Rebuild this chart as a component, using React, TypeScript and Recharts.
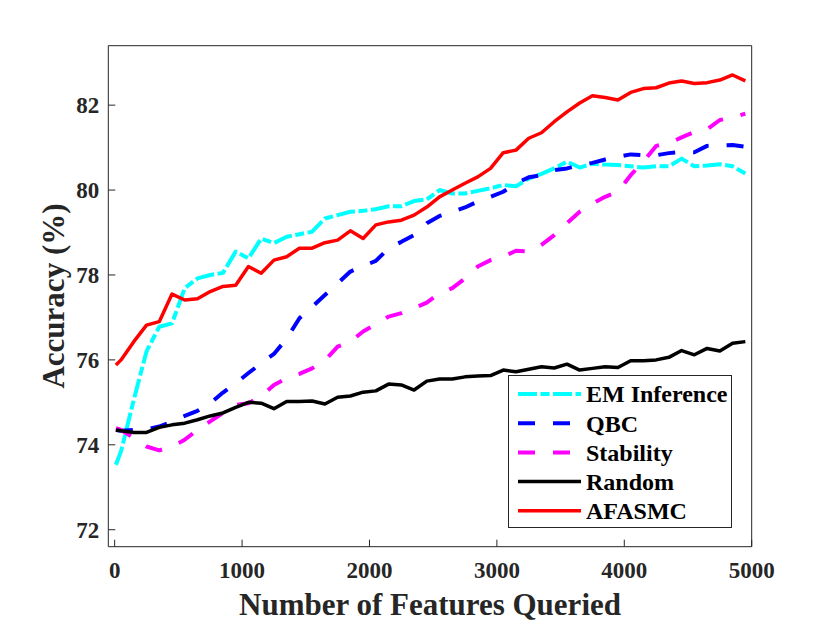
import React from 'react';
import {
  LineChart,
  Line,
  XAxis,
  YAxis,
  Legend,
  Label,
} from 'recharts';

// features queried (x positions of the samples)
const featuresQueried = [
  10, 50, 150, 250, 350, 450, 550, 650, 750, 850, 950,
  1050, 1150, 1250, 1350, 1450, 1550, 1650, 1750, 1850, 1950,
  2050, 2150, 2250, 2350, 2450, 2550, 2650, 2750, 2850, 2950,
  3050, 3150, 3250, 3350, 3450, 3550, 3650, 3750, 3850, 3950,
  4050, 4150, 4250, 4350, 4450, 4550, 4650, 4750, 4850, 4950,
];

const emInference = [
  73.53, 73.85, 75.06, 76.2, 76.78, 76.86, 77.69, 77.92, 78.0, 78.05, 78.55,
  78.39, 78.86, 78.75, 78.9, 78.96, 79.02, 79.33, 79.41, 79.49, 79.51,
  79.55, 79.62, 79.62, 79.74, 79.78, 80.0, 79.92, 79.92, 79.98, 80.04,
  80.12, 80.09, 80.27, 80.38, 80.51, 80.67, 80.53, 80.62, 80.6, 80.59,
  80.56, 80.53, 80.56, 80.56, 80.74, 80.56, 80.58, 80.61, 80.56, 80.39,
];

const qbc = [
  74.35, 74.33, 74.35, 74.36, 74.43, 74.55, 74.68, 74.8, 74.98, 75.23, 75.45,
  75.69, 75.92, 76.14, 76.5, 76.98, 77.25, 77.53, 77.8, 78.08, 78.21,
  78.33, 78.63, 78.78, 78.94, 79.22, 79.39, 79.49, 79.59, 79.73, 79.84,
  79.96, 80.16, 80.3, 80.35, 80.47, 80.51, 80.59, 80.64, 80.72, 80.78,
  80.84, 80.82, 80.82, 80.87, 80.9, 80.89, 81.04, 81.05, 81.06, 81.02,
];

const stability = [
  74.39, 74.35, 74.16, 73.96, 73.87, 73.96, 74.12, 74.35, 74.55, 74.75, 74.94,
  74.98, 75.14, 75.41, 75.57, 75.67, 75.8, 75.99, 76.31, 76.43, 76.67,
  76.84, 77.02, 77.1, 77.22, 77.35, 77.57, 77.69, 77.92, 78.2, 78.35,
  78.43, 78.57, 78.55, 78.71, 78.94, 79.22, 79.49, 79.68, 79.84, 79.96,
  80.35, 80.67, 81.04, 81.1, 81.24, 81.37, 81.43, 81.65, 81.71, 81.8,
];

const random = [
  74.35, 74.33, 74.29, 74.29, 74.41, 74.47, 74.51, 74.59, 74.68, 74.75, 74.88,
  75.0, 74.98, 74.85, 75.02, 75.02, 75.03, 74.96, 75.12, 75.15, 75.24,
  75.27, 75.43, 75.41, 75.29, 75.5, 75.55, 75.55, 75.6, 75.62, 75.63,
  75.76, 75.72, 75.78, 75.84, 75.81, 75.9, 75.76, 75.8, 75.84, 75.82,
  75.98, 75.98, 76.0, 76.06, 76.22, 76.12, 76.27, 76.21, 76.39, 76.43,
];

const afasmc = [
  75.88, 76.0, 76.43, 76.82, 76.9, 77.55, 77.41, 77.44, 77.61, 77.73, 77.76,
  78.2, 78.04, 78.35, 78.43, 78.63, 78.63, 78.76, 78.82, 79.04, 78.86,
  79.18, 79.25, 79.29, 79.41, 79.6, 79.84, 80.0, 80.16, 80.31, 80.51,
  80.88, 80.94, 81.22, 81.35, 81.61, 81.84, 82.05, 82.22, 82.18, 82.12,
  82.3, 82.39, 82.41, 82.52, 82.57, 82.51, 82.53, 82.59, 82.71, 82.57,
];

const xTicks = [0, 1000, 2000, 3000, 4000, 5000];
const yTicks = [72, 74, 76, 78, 80, 82];

const FONT = 'Liberation Serif, Times New Roman, serif';
const AXIS_COLOR = '#262626';

// series styling, in drawing order (last one ends up on top)
const seriesList = [
  { key: 'em', name: 'EM Inference', color: '#00ffff', dash: '19 3.5 9 3.5', width: 4 },
  { key: 'qbc', name: 'QBC', color: '#0000ff', dash: '17 18', width: 4 },
  { key: 'stability', name: 'Stability', color: '#ff00ff', dash: '17 18', width: 4 },
  { key: 'random', name: 'Random', color: '#000000', dash: undefined, width: 3.5 },
  { key: 'afasmc', name: 'AFASMC', color: '#ff0000', dash: undefined, width: 3.5 },
];

const chartData = featuresQueried.map((x, i) => ({
  x,
  em: emInference[i],
  qbc: qbc[i],
  stability: stability[i],
  random: random[i],
  afasmc: afasmc[i],
}));

const LegendBox = () => (
  <svg width={224} height={153} style={{ display: 'block' }}>
    <rect x={0.5} y={0.5} width={223} height={152} fill="#fff" stroke={AXIS_COLOR} strokeWidth={1} />
    {seriesList.map((s, i) => {
      const cy = 19 + i * 29.2;
      return (
        <g key={s.key}>
          <line
            x1={10}
            x2={73}
            y1={cy}
            y2={cy}
            stroke={s.color}
            strokeWidth={s.width}
            strokeDasharray={s.dash}
          />
          <text
            x={78}
            y={cy}
            dy="0.35em"
            style={{ fontFamily: FONT, fontWeight: 'bold', fontSize: 24 }}
            fill="#000"
          >
            {s.name}
          </text>
        </g>
      );
    })}
  </svg>
);

const tickStyle = {
  fill: AXIS_COLOR,
  style: { fontFamily: FONT, fontWeight: 'bold', fontSize: 23 },
};

export default function App() {
  return (
    <div style={{ position: 'absolute', left: 0, top: 0, width: 830, height: 632, background: '#fff', fontFamily: FONT }}>
      <LineChart
        width={830}
        height={632}
        data={chartData}
        margin={{ top: 35.7, right: 68.3, bottom: 10.3, left: 48.3 }}
      >
        <XAxis
          dataKey="x"
          type="number"
          domain={[-50, 5000]}
          ticks={xTicks}
          allowDataOverflow
          height={75}
          stroke={AXIS_COLOR}
          tickSize={-7}
          tickMargin={22}
          tick={tickStyle}
        >
          <Label
            content={() => (
              <text
                x={430}
                y={615}
                textAnchor="middle"
                style={{ fontFamily: FONT, fontWeight: 'bold', fontSize: 31 }}
                fill={AXIS_COLOR}
              >
                Number of Features Queried
              </text>
            )}
          />
        </XAxis>
        <XAxis
          xAxisId="top"
          orientation="top"
          dataKey="x"
          type="number"
          domain={[-50, 5000]}
          ticks={xTicks}
          allowDataOverflow
          height={10}
          stroke={AXIS_COLOR}
          tickSize={-7}
          tick={false}
        />
        <YAxis
          type="number"
          domain={[71.6, 83.4]}
          ticks={yTicks}
          allowDataOverflow
          width={60}
          stroke={AXIS_COLOR}
          tickSize={-7}
          tickMargin={16}
          tick={tickStyle}
        >
          <Label
            content={() => (
              <text
                transform="translate(64,296) rotate(-90)"
                textAnchor="middle"
                style={{ fontFamily: FONT, fontWeight: 'bold', fontSize: 31 }}
                fill={AXIS_COLOR}
              >
                Accuracy (%)
              </text>
            )}
          />
        </YAxis>
        <YAxis
          yAxisId="right"
          orientation="right"
          type="number"
          domain={[71.6, 83.4]}
          ticks={yTicks}
          allowDataOverflow
          width={10}
          stroke={AXIS_COLOR}
          tickSize={-7}
          tick={false}
        />
        {seriesList.map((s) => (
          <Line
            key={s.key}
            type="linear"
            dataKey={s.key}
            name={s.name}
            stroke={s.color}
            strokeWidth={s.width}
            strokeDasharray={s.dash}
            strokeLinejoin="round"
            dot={false}
            activeDot={false}
            isAnimationActive={false}
          />
        ))}
        <Legend
          layout="vertical"
          align="center"
          verticalAlign="middle"
          content={() => <LegendBox />}
          wrapperStyle={{ left: 508, top: 375, width: 224, height: 153 }}
        />
      </LineChart>
    </div>
  );
}
